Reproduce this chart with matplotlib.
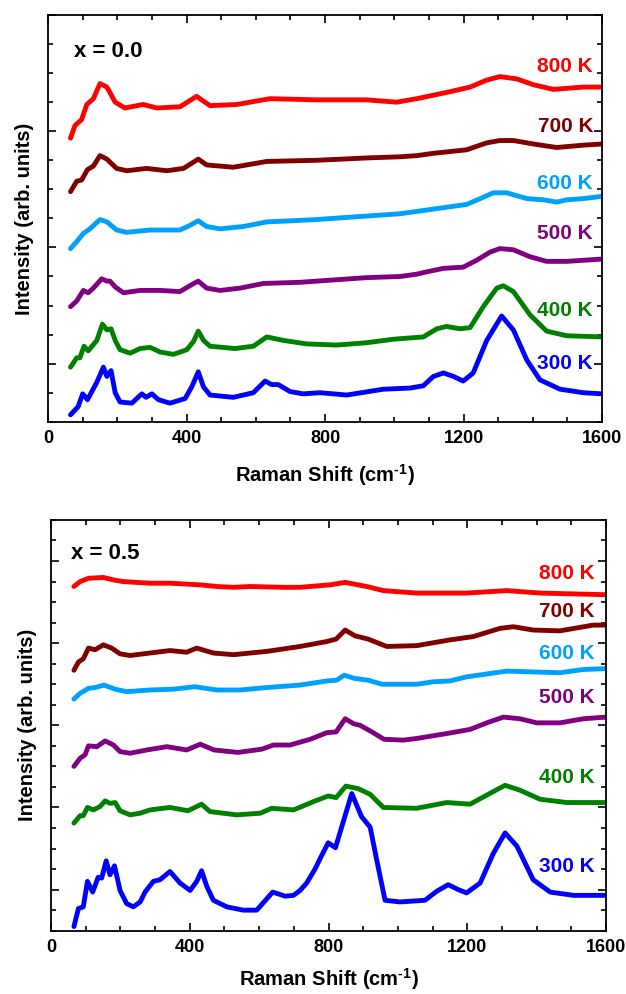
import matplotlib
matplotlib.use("Agg")
import matplotlib.pyplot as plt
from matplotlib.ticker import MultipleLocator

# ------------------------------------------------------------------------
# Data (offset Raman spectra)

# x = 0.0
x00_300 = [65, 87, 100, 114, 141, 160, 170, 182, 194, 208, 242, 271, 283, 300, 319, 352, 396, 415, 434, 449,
           468, 535, 593, 627, 646, 665, 699, 737, 786, 863, 968, 1046, 1084, 1113, 1142, 1171, 1199, 1228,
           1267, 1310, 1344, 1383, 1421, 1479, 1546, 1600]
y00_300 = [-0.44, -0.37, -0.26, -0.31, -0.16, -0.03, -0.11, -0.06, -0.25, -0.33, -0.34, -0.26, -0.29, -0.26,
           -0.31, -0.34, -0.30, -0.20, -0.07, -0.20, -0.27, -0.29, -0.25, -0.15, -0.18, -0.18, -0.24, -0.26,
           -0.25, -0.27, -0.22, -0.21, -0.19, -0.11, -0.08, -0.11, -0.15, -0.08, 0.20, 0.41, 0.29, 0.03,
           -0.14, -0.22, -0.25, -0.26]

x00_400 = [65, 83, 92, 104, 116, 141, 157, 170, 182, 194, 208, 237, 266, 295, 324, 362, 401, 420, 434, 449,
           468, 540, 593, 632, 680, 747, 834, 920, 997, 1084, 1123, 1151, 1190, 1219, 1257, 1296, 1315, 1344,
           1392, 1440, 1498, 1600]
y00_400 = [-0.03, 0.05, 0.05, 0.15, 0.11, 0.20, 0.34, 0.29, 0.30, 0.20, 0.12, 0.09, 0.13, 0.14, 0.10, 0.08,
           0.12, 0.19, 0.28, 0.20, 0.15, 0.13, 0.15, 0.23, 0.20, 0.17, 0.16, 0.18, 0.21, 0.23, 0.30, 0.32,
           0.30, 0.31, 0.49, 0.65, 0.67, 0.62, 0.42, 0.28, 0.24, 0.23]

x00_500 = [65, 83, 102, 116, 131, 155, 170, 179, 194, 218, 266, 324, 381, 415, 434, 458, 497, 555, 622, 728,
           776, 920, 1017, 1065, 1094, 1142, 1199, 1238, 1277, 1305, 1344, 1392, 1440, 1498, 1600]
y00_500 = [0.49, 0.54, 0.63, 0.61, 0.65, 0.73, 0.71, 0.71, 0.66, 0.61, 0.63, 0.63, 0.62, 0.68, 0.71, 0.65,
           0.63, 0.65, 0.69, 0.70, 0.71, 0.74, 0.75, 0.77, 0.79, 0.82, 0.83, 0.89, 0.96, 0.99, 0.98, 0.92,
           0.88, 0.88, 0.90]

x00_600 = [65, 83, 102, 121, 150, 170, 198, 227, 295, 381, 410, 434, 458, 497, 564, 632, 708, 776, 920, 1017,
           1065, 1113, 1161, 1209, 1248, 1286, 1325, 1383, 1430, 1469, 1498, 1546, 1600]
y00_600 = [0.99, 1.05, 1.12, 1.16, 1.24, 1.22, 1.15, 1.13, 1.15, 1.15, 1.19, 1.23, 1.18, 1.16, 1.18, 1.22,
           1.23, 1.24, 1.27, 1.29, 1.31, 1.33, 1.35, 1.37, 1.42, 1.47, 1.47, 1.42, 1.41, 1.39, 1.41, 1.42, 1.44]

x00_700 = [65, 83, 97, 114, 131, 150, 170, 198, 227, 285, 343, 391, 434, 458, 535, 632, 776, 920, 1017, 1065,
           1113, 1209, 1267, 1305, 1344, 1402, 1469, 1546, 1600]
y00_700 = [1.48, 1.57, 1.58, 1.67, 1.70, 1.79, 1.76, 1.68, 1.66, 1.68, 1.66, 1.68, 1.76, 1.71, 1.69, 1.74,
           1.75, 1.77, 1.78, 1.79, 1.81, 1.84, 1.90, 1.92, 1.92, 1.89, 1.86, 1.88, 1.89]

x00_800 = [65, 78, 97, 112, 131, 150, 170, 194, 222, 275, 314, 381, 429, 468, 545, 641, 776, 920, 1007, 1065,
           1161, 1219, 1267, 1305, 1354, 1402, 1459, 1546, 1600]
y00_800 = [1.94, 2.05, 2.10, 2.23, 2.28, 2.41, 2.38, 2.25, 2.20, 2.23, 2.20, 2.21, 2.30, 2.22, 2.23, 2.28,
           2.27, 2.27, 2.25, 2.28, 2.34, 2.38, 2.44, 2.47, 2.45, 2.40, 2.36, 2.38, 2.38]

# x = 0.5
x05_300 = [66, 79, 93, 105, 120, 136, 146, 159, 170, 183, 199, 218, 237, 257, 271, 295, 314, 343, 372, 401,
           420, 434, 449, 468, 507, 554, 593, 614, 639, 675, 699, 718, 737, 761, 776, 799, 820, 867, 895, 920,
           939, 963, 1006, 1078, 1112, 1145, 1174, 1198, 1237, 1275, 1309, 1343, 1390, 1439, 1506, 1600]
y05_300 = [-0.45, -0.23, -0.21, 0.10, -0.03, 0.15, 0.14, 0.35, 0.18, 0.29, -0.01, -0.17, -0.21, -0.15, -0.03,
           0.10, 0.12, 0.22, 0.08, -0.01, 0.10, 0.23, 0.04, -0.13, -0.21, -0.25, -0.25, -0.15, -0.03, -0.08,
           -0.07, -0.01, 0.08, 0.25, 0.38, 0.57, 0.51, 1.17, 0.89, 0.76, 0.36, -0.13, -0.15, -0.13, -0.02,
           0.06, 0.00, -0.04, 0.08, 0.44, 0.69, 0.53, 0.12, -0.03, -0.07, -0.07]

x05_400 = [66, 84, 93, 105, 122, 141, 156, 170, 185, 199, 228, 257, 285, 343, 395, 434, 458, 535, 603, 636,
           699, 756, 799, 822, 850, 885, 920, 958, 1054, 1141, 1208, 1256, 1309, 1352, 1410, 1487, 1600]
y05_400 = [0.81, 0.90, 0.90, 1.00, 0.97, 1.01, 1.08, 1.05, 1.06, 0.96, 0.91, 0.93, 0.97, 1.00, 0.96, 1.04,
           0.95, 0.91, 0.93, 0.99, 0.97, 1.07, 1.14, 1.12, 1.26, 1.23, 1.16, 1.00, 0.99, 1.06, 1.04, 1.15,
           1.27, 1.21, 1.10, 1.06, 1.06]

x05_500 = [66, 84, 98, 108, 132, 156, 180, 199, 228, 276, 334, 391, 430, 470, 539, 608, 641, 689, 747, 795,
           822, 848, 872, 891, 925, 960, 1016, 1054, 1141, 1208, 1256, 1304, 1352, 1400, 1467, 1535, 1600]
y05_500 = [1.50, 1.60, 1.64, 1.75, 1.74, 1.81, 1.76, 1.68, 1.66, 1.70, 1.74, 1.70, 1.77, 1.70, 1.67, 1.71,
           1.76, 1.76, 1.83, 1.91, 1.92, 2.08, 2.02, 2.00, 1.92, 1.83, 1.82, 1.84, 1.90, 1.95, 2.03, 2.10,
           2.08, 2.03, 2.03, 2.08, 2.10]

x05_600 = [66, 84, 108, 127, 153, 185, 218, 285, 353, 415, 478, 545, 622, 718, 795, 824, 845, 876, 914, 954,
           1006, 1054, 1102, 1150, 1198, 1314, 1390, 1467, 1535, 1600]
y05_600 = [2.32, 2.39, 2.45, 2.46, 2.49, 2.44, 2.41, 2.43, 2.44, 2.47, 2.43, 2.43, 2.46, 2.49, 2.54, 2.55,
           2.61, 2.57, 2.55, 2.50, 2.50, 2.50, 2.53, 2.54, 2.59, 2.66, 2.65, 2.64, 2.68, 2.69]

x05_700 = [66, 79, 93, 108, 127, 151, 175, 199, 228, 285, 343, 391, 420, 468, 526, 622, 718, 795, 822, 848,
           876, 914, 968, 1054, 1150, 1217, 1294, 1333, 1390, 1467, 1563, 1600]
y05_700 = [2.67, 2.77, 2.81, 2.94, 2.92, 2.98, 2.94, 2.87, 2.85, 2.88, 2.91, 2.89, 2.94, 2.88, 2.86, 2.90,
           2.96, 3.02, 3.05, 3.16, 3.09, 3.05, 2.96, 2.97, 3.04, 3.08, 3.18, 3.20, 3.16, 3.15, 3.22, 3.22]

x05_800 = [66, 84, 108, 151, 180, 208, 285, 343, 430, 478, 526, 574, 670, 718, 804, 848, 910, 958, 1054,
           1198, 1314, 1410, 1600]
y05_800 = [3.69, 3.75, 3.79, 3.80, 3.77, 3.75, 3.73, 3.73, 3.71, 3.69, 3.68, 3.69, 3.68, 3.68, 3.71, 3.74,
           3.69, 3.64, 3.61, 3.61, 3.64, 3.61, 3.59]

temps = ['300 K', '400 K', '500 K', '600 K', '700 K', '800 K']
colors = ['#0000ff', '#008000', '#800080', '#00a0ff', '#800000', '#ff0000']

# label heights (data units) next to the right axis
label_y00 = [0.0, 0.46, 1.12, 1.55, 2.04, 2.56]
label_y05 = [0.28, 1.36, 2.34, 2.88, 3.38, 3.85]

# ------------------------------------------------------------------------
# Plotting

plt.rcParams['font.family'] = ['Liberation Sans', 'DejaVu Sans']
plt.rcParams['font.weight'] = 'bold'
plt.rcParams['mathtext.fontset'] = 'custom'
plt.rcParams['mathtext.rm'] = 'Liberation Sans:bold'
plt.rcParams['mathtext.bf'] = 'Liberation Sans:bold'
plt.rcParams['mathtext.default'] = 'bf'

fig = plt.figure(figsize=(6.26, 9.94), dpi=100)
ax1 = fig.add_axes([0.0767, 0.5757, 0.885, 0.4092])
ax2 = fig.add_axes([0.0815, 0.0637, 0.8866, 0.4132])

panels = [
    (ax1, [(x00_300, y00_300), (x00_400, y00_400), (x00_500, y00_500),
           (x00_600, y00_600), (x00_700, y00_700), (x00_800, y00_800)],
     label_y00, 1574, 'x = 0.0', (75, 2.69), (-0.5, 3.0), 11),
    (ax2, [(x05_300, y05_300), (x05_400, y05_400), (x05_500, y05_500),
           (x05_600, y05_600), (x05_700, y05_700), (x05_800, y05_800)],
     label_y05, 1568, 'x = 0.5', (58, 4.09), (-0.5, 4.5), 7),
]

for ax, curves, lab_y, lab_x, title, title_pos, ylim, xpad in panels:
    for (xs, ys), c in zip(curves, colors):
        ax.plot(xs, ys, color=c, lw=3.5, solid_joinstyle='round', solid_capstyle='round')
    for t, c, ly in zip(temps, colors, lab_y):
        ax.text(lab_x, ly, t, color=c, fontsize=15, fontweight='bold', ha='right', va='center')
    ax.text(title_pos[0], title_pos[1], title, fontsize=16, fontweight='bold', ha='left', va='center')

    ax.set_xlim(0, 1600)
    ax.set_ylim(*ylim)
    ax.xaxis.set_major_locator(MultipleLocator(400))
    ax.xaxis.set_minor_locator(MultipleLocator(100))
    ax.yaxis.set_major_locator(MultipleLocator(1))
    ax.yaxis.set_minor_locator(MultipleLocator(0.25))
    ax.tick_params(which='both', direction='in', top=True, right=True, labelleft=False, width=1.2)
    ax.tick_params(which='major', length=6, labelsize=13, pad=6)
    ax.tick_params(which='minor', length=3.5)
    for s in ax.spines.values():
        s.set_linewidth(1.3)
    for lbl in ax.get_xticklabels():
        lbl.set_fontweight('bold')

    ax.set_xlabel('Raman Shift (cm$^{\u2010 1}$)', fontsize=14.5, fontweight='bold', labelpad=xpad)
    ax.set_ylabel('Intensity (arb. units)', fontsize=14.5, fontweight='bold', labelpad=10)

fig.savefig('out.png', dpi=100)
